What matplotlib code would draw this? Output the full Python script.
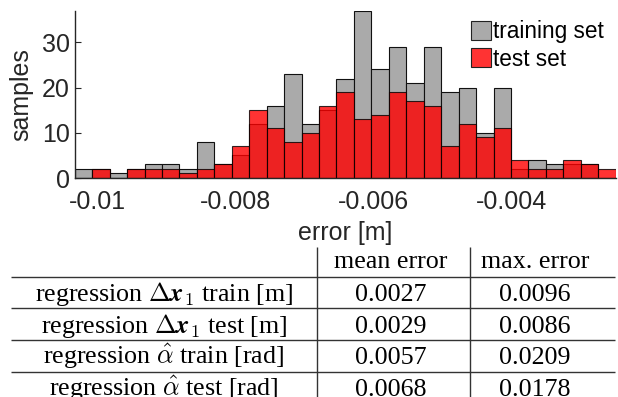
import numpy as np
import matplotlib.pyplot as plt
from matplotlib.patches import Patch

plt.rcParams['mathtext.fontset'] = 'cm'

# histogram bins (shared by both sets)
bin_start = -0.01033
bin_width = 0.000253
train_counts = [2, 2, 1, 2, 3, 3, 2, 8, 3, 5, 12, 16, 23, 12, 15, 22, 37,
                24, 29, 21, 29, 19, 20, 10, 20, 2, 4, 3, 3, 3, 0]
test_counts = [0, 2, 0, 2, 2, 2, 1, 2, 3, 7, 15, 11, 8, 10, 16, 19, 13,
               14, 19, 17, 16, 7, 12, 9, 11, 4, 2, 2, 4, 3, 2]
xticks = [-0.01, -0.008, -0.006, -0.004]
xtick_labels = ['-0.01', '-0.008', '-0.006', '-0.004']
yticks = [0, 10, 20, 30]

# summary table
col_headers = ['mean error', 'max. error']
row_labels = [r'regression $\Delta\mathbfit{x}_1$ train [m]',
              r'regression $\Delta\mathbfit{x}_1$ test [m]',
              r'regression $\hat{\alpha}$ train [rad]',
              r'regression $\hat{\alpha}$ test [rad]']
mean_err = ['0.0027', '0.0029', '0.0057', '0.0068']
max_err = ['0.0096', '0.0086', '0.0209', '0.0178']

W, H = 618, 397
edges = bin_start + bin_width * np.arange(len(train_counts) + 1)
txt = '#262626'

fig = plt.figure(figsize=(W / 100, H / 100), dpi=100)
ax = fig.add_axes([74.7 / W, 1 - 178 / H, (615.7 - 74.7) / W, (178 - 10.7) / H])

ax.bar(edges[:-1], train_counts, width=np.diff(edges), align='edge',
       facecolor='#aaaaaa', edgecolor='#111111', linewidth=0.8, label='training set')
ax.bar(edges[:-1], test_counts, width=np.diff(edges), align='edge',
       facecolor=(1, 0, 0, 0.8), edgecolor=(0, 0, 0, 0.8), linewidth=0.8, label='test set')

ax.set_xlim(edges[0], edges[-1])
ax.set_ylim(0, 37)
ax.set_xticks(xticks)
ax.set_xticklabels(xtick_labels)
ax.set_yticks(yticks)
ax.set_axisbelow(True)
for s in ['top', 'right']:
    ax.spines[s].set_visible(False)
for s in ['left', 'bottom']:
    ax.spines[s].set_color(txt)
    ax.spines[s].set_linewidth(1.0)
ax.tick_params(axis='y', direction='in', length=4.5, width=0.8, colors=txt,
               labelsize=18, pad=3.4)
ax.tick_params(axis='x', direction='in', length=4.5, width=0.8, colors=txt,
               labelsize=18, pad=8.6)
for lab in ax.get_xticklabels() + ax.get_yticklabels():
    lab.set_family('Liberation Sans')
ax.set_xlabel('error [m]', fontsize=18, family='Liberation Sans', color=txt, labelpad=5)
ax.set_ylabel('samples', fontsize=18, family='Liberation Sans', color=txt, labelpad=6)

handles = [Patch(facecolor='#aaaaaa', edgecolor='#222222', linewidth=0.8),
           Patch(facecolor=(1, 0.2, 0.2), edgecolor='#222222', linewidth=0.8)]
leg = fig.legend(handles, ['training set', 'test set'], loc='upper left',
                 bbox_to_anchor=(471 / W, 1 - 20 / H), frameon=False,
                 prop={'family': 'Liberation Sans', 'size': 16.3},
                 handlelength=0.88, handleheight=0.93, handletextpad=0.1,
                 labelspacing=0.2, borderpad=0, borderaxespad=0)

# table drawn in pixel coordinates on a full-figure overlay
tab = fig.add_axes([0, 0, 1, 1], zorder=-1)
tab.set_xlim(0, W)
tab.set_ylim(H, 0)
tab.axis('off')

row_h = 31.6
first_line = 276.7
col_x = [164, 391, 535]
tfont = {'family': 'Liberation Serif', 'size': 18.7, 'color': 'black'}

line_y = first_line + row_h * np.arange(len(row_labels))
tab.hlines(line_y, 11, 615, color='#333333', linewidth=1.0)
tab.vlines([317, 470], 246.7, H, color='#333333', linewidth=1.0)

for j, h in enumerate(col_headers):
    tab.text(col_x[j + 1], first_line - 8.4, h, ha='center', va='baseline', **tfont)
for i in range(len(row_labels)):
    base = first_line + row_h * i + 24.3
    tab.text(col_x[0], base, row_labels[i], ha='center', va='baseline', **tfont)
    tab.text(col_x[1], base, mean_err[i], ha='center', va='baseline', **tfont)
    tab.text(col_x[2], base, max_err[i], ha='center', va='baseline', **tfont)

fig.savefig('out.png', dpi=100)
